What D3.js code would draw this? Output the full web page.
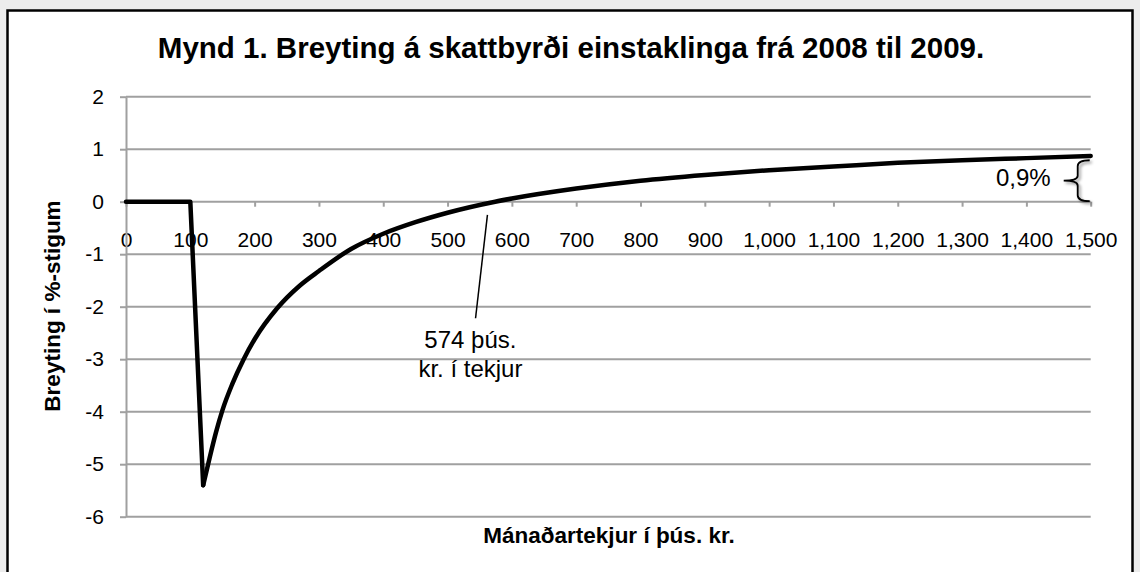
<!DOCTYPE html>
<html>
<head>
<meta charset="utf-8">
<script src="https://cdn.jsdelivr.net/npm/d3@7"></script>
<style>
  body { margin: 0; background: #ececec; }
  svg { display: block; font-family: "Liberation Sans", Arial, sans-serif; }
</style>
</head>
<body>
<div id="app"></div>
<script>
// income in thousand kr per month, change in tax burden (%-points)
const income = [0, 100, 120, 130, 140, 150, 165, 183, 200, 235, 270, 300, 350, 400, 450, 500, 574, 600, 700, 800, 900, 1000, 1100, 1200, 1300, 1400, 1500]
const change = [0, 0, -5.4, -4.88, -4.39, -3.97, -3.48, -3.0, -2.62, -2.03, -1.6, -1.32, -0.9, -0.61, -0.39, -0.21, 0, 0.06, 0.25, 0.40, 0.51, 0.60, 0.67, 0.74, 0.79, 0.83, 0.87]

const xTicks = d3.range(0, 1501, 100)
const yTicks = [-6, -5, -4, -3, -2, -1, 0, 1, 2]

const title = 'Mynd 1. Breyting á skattbyrði einstaklinga frá 2008 til 2009.'
const xTitle = 'Mánaðartekjur í þús. kr.'
const yTitle = 'Breyting í %-stigum'
const breakEven = ['574 þús.', 'kr. í tekjur']
const endLabel = '0,9%'

const width = 1140, height = 572
const plot = {left: 126, right: 1090.7, top: 96.7, bottom: 516.7}

const data = income.map((d, i) => ({x: d, y: change[i]}))

const svg = d3.select('#app').append('svg')
    .attr('width', width)
    .attr('height', height)

const defs = svg.append('defs')
defs.append('filter').attr('id', 'shadow')
    .attr('x', '-50%').attr('y', '-50%').attr('width', '200%').attr('height', '200%')
    .append('feDropShadow')
        .attr('dx', 2).attr('dy', 2).attr('stdDeviation', 1.5)
        .attr('flood-color', '#000').attr('flood-opacity', 0.45)

// chart box
svg.append('rect')
    .attr('x', 7.5).attr('y', 10.5)
    .attr('width', 1125).attr('height', 600)
    .attr('fill', '#fff')
    .attr('stroke', '#000')
    .attr('stroke-width', 2.5)

const x = d3.scaleLinear().domain([0, 1500]).range([plot.left, plot.right])
const y = d3.scaleLinear().domain([-6, 2]).range([plot.bottom, plot.top])

// gridlines
svg.append('g')
    .selectAll('line')
    .data(yTicks)
    .enter()
    .append('line')
        .attr('x1', plot.left).attr('x2', plot.right)
        .attr('y1', d => y(d)).attr('y2', d => y(d))
        .attr('stroke', '#a0a0a0')
        .attr('stroke-width', 2)

// x axis on the zero line
const xAxis = d3.axisBottom(x)
    .tickValues(xTicks)
    .tickFormat(d3.format(','))
    .tickSizeInner(5)
    .tickSizeOuter(0)
    .tickPadding(25)

const gx = svg.append('g')
    .attr('transform', 'translate(0,' + y(0) + ')')
    .call(xAxis)
gx.select('.domain').remove()
gx.selectAll('line').attr('stroke', '#a0a0a0').attr('stroke-width', 2)
gx.selectAll('text')
    .attr('font-family', '"Liberation Sans", Arial, sans-serif')
    .attr('font-size', 21)
    .attr('fill', '#000')

// y axis (plain hyphen for negatives, like the original)
const yAxis = d3.axisLeft(y)
    .tickValues(yTicks)
    .tickFormat(d => String(d))
    .tickSizeInner(6)
    .tickSizeOuter(0)
    .tickPadding(16)

const gy = svg.append('g')
    .attr('transform', 'translate(' + plot.left + ',0)')
    .call(yAxis)
gy.select('.domain').attr('stroke', '#a0a0a0').attr('stroke-width', 2)
gy.selectAll('line').attr('stroke', '#a0a0a0').attr('stroke-width', 2)
gy.selectAll('text')
    .attr('font-family', '"Liberation Sans", Arial, sans-serif')
    .attr('font-size', 21)
    .attr('fill', '#000')

// the series: straight drop at 100, smooth recovery after the minimum
const minIdx = 2
const straight = d3.line().x(d => x(d.x)).y(d => y(d.y))
const smooth = d3.line().x(d => x(d.x)).y(d => y(d.y)).curve(d3.curveMonotoneX)

svg.append('path')
    .attr('d', straight(data.slice(0, minIdx + 1)))
    .attr('fill', 'none')
    .attr('stroke', '#000')
    .attr('stroke-width', 4.5)
    .attr('stroke-linejoin', 'round')
    .attr('stroke-linecap', 'round')

svg.append('path')
    .attr('d', smooth(data.slice(minIdx)))
    .attr('fill', 'none')
    .attr('stroke', '#000')
    .attr('stroke-width', 4.5)
    .attr('stroke-linecap', 'round')

// break-even annotation
svg.append('line')
    .attr('x1', x(562)).attr('y1', y(-0.25))
    .attr('x2', x(543.5)).attr('y2', y(-2.22))
    .attr('stroke', '#000')
    .attr('stroke-width', 1.5)

svg.append('text')
    .attr('text-anchor', 'middle')
    .attr('font-size', 24)
    .selectAll('tspan')
    .data(breakEven)
    .enter()
    .append('tspan')
        .attr('x', x(535.5))
        .attr('y', (d, i) => y(-2.79) + i * 28.4)
        .text(d => d)

// 0,9% brace at the right end
const bx = x(1500), bTop = y(0.79), bBot = y(0) - 0.5, bMid = (bTop + bBot) / 2
const brace = d3.path()
brace.moveTo(bx - 1, bTop)
brace.quadraticCurveTo(bx - 13, bTop, bx - 13, bTop + 6)
brace.lineTo(bx - 13, bMid - 5)
brace.quadraticCurveTo(bx - 13, bMid, bx - 27, bMid)
brace.quadraticCurveTo(bx - 13, bMid, bx - 13, bMid + 5)
brace.lineTo(bx - 13, bBot - 6)
brace.quadraticCurveTo(bx - 13, bBot, bx - 1, bBot)

svg.append('path')
    .attr('d', brace.toString())
    .attr('fill', 'none')
    .attr('stroke', '#000')
    .attr('stroke-width', 1.8)
    .style('filter', 'url(#shadow)')

svg.append('text')
    .attr('x', bx - 40)
    .attr('y', bMid + 5)
    .attr('text-anchor', 'end')
    .attr('font-size', 24)
    .text(endLabel)

// titles
svg.append('text')
    .attr('x', 571).attr('y', 58)
    .attr('text-anchor', 'middle')
    .attr('font-size', 29.5)
    .attr('font-weight', 'bold')
    .text(title)

svg.append('text')
    .attr('x', 609).attr('y', 543)
    .attr('text-anchor', 'middle')
    .attr('font-size', 22.5)
    .attr('font-weight', 'bold')
    .text(xTitle)

svg.append('text')
    .attr('transform', 'translate(60,306) rotate(-90)')
    .attr('text-anchor', 'middle')
    .attr('font-size', 22.5)
    .attr('font-weight', 'bold')
    .text(yTitle)
</script>
</body>
</html>
